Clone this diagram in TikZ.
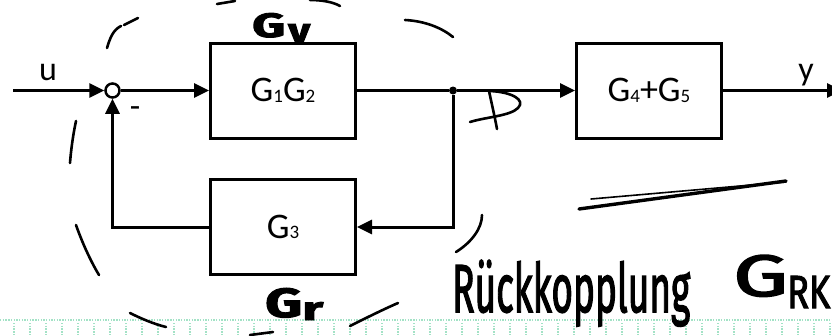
\documentclass[tikz,border=0pt]{standalone}
\usepackage{fontspec}
\setmainfont{Carlito}
\newfontfamily\handfont{Fira Sans}[FakeBold=2.5]
\usetikzlibrary{arrows.meta}

\definecolor{gridgreen}{HTML}{A3E2C6}

\newcommand\sub[1]{\raisebox{-0.5pt}{\fontsize{19}{19}\selectfont #1}}
\newcommand\hand[3]{\resizebox{#1}{#2}{\handfont #3}}
\newcommand\handbold[3]{\resizebox{#1}{#2}{\handfont\bfseries #3}}

\tikzset{
  block/.style={draw, line width=3pt, minimum width=145pt, minimum height=95pt, inner sep=0pt,
                font=\fontsize{36}{36}\selectfont},
  wire/.style={line width=3pt},
  sig/.style={line width=3pt, -{Triangle[length=15pt,width=14pt]}},
  lbl/.style={inner sep=0pt, font=\fontsize{34}{34}\selectfont},
  ink/.style={line width=2.6pt, line cap=round, line join=round},
  handlbl/.style={inner sep=0pt, anchor=base west},
  gridline/.style={color=gridgreen, line width=1.4pt, dash pattern=on 1.4pt off 1.3pt},
}

\begin{document}
\begin{tikzpicture}[x=1pt, y=-1pt]
\useasboundingbox (0,0) rectangle (832,335);

% ruled paper at the bottom edge
\draw[gridline] (0,320) -- (832,320);
\foreach \i in {0,...,51} {
  \draw[gridline] ({14+16*\i},323) -- ({14+16*\i},336);
}

% blocks
\node[block] (g12) at (283,90.5) {G\sub{1}G\sub{2}};
\node[block] (g45) at (649,90.5) {G\sub{4}+G\sub{5}};
\node[block] (g3)  at (283,227)  {G\sub{3}};

% summing point and branch point
\node[circle, draw, line width=2.5pt, minimum size=14pt, inner sep=0pt] (sum) at (112.5,90.5) {};
\node[circle, fill, minimum size=8pt, inner sep=0pt] (jn) at (453,90.5) {};
\coordinate (in)  at (13,90.5);
\coordinate (out) at (842,90.5);

% signal flow
\draw[sig]  (in) -- (sum);
\draw[sig]  (sum) -- (g12);
\draw[wire] (g12) -- (jn);
\draw[sig]  (jn) -- (g45);
\draw[sig]  (g45) -- (out);
\draw[sig]  (jn) |- (g3);
\draw[sig]  (g3) -| (sum);

% signal labels
\node[lbl, anchor=base] (lu) at (48,80) {u};
\node[lbl, anchor=base] (ly) at (806,80) {y};
\node[lbl, anchor=base] (lminus) at (135,117) {-};

% handwritten loop outline
\draw[ink] (217,4) -- (235,1);
\draw[ink] (310,0) .. controls (322,0) and (333,2) .. (340,6);
\draw[ink] (405,20) .. controls (425,21) and (442,28) .. (453,37);
\draw[ink] (107,48) .. controls (110,38) and (113,30) .. (121,26);
\draw[ink] (124,25) -- (138,18);
\draw[ink] (76,121) .. controls (73,135) and (71,150) .. (70,163);
\draw[ink] (76,225) .. controls (82,242) and (90,260) .. (99,275);
\draw[ink] (130,313) .. controls (142,319) and (154,324) .. (166,327);
\draw[ink] (250,335) -- (273,332);
\draw[ink] (350,326) .. controls (366,318) and (382,310) .. (398,303);
\draw[ink] (482,215) .. controls (482,228) and (472,242) .. (456,252);

% handwritten mark on the forward path
\draw[ink] (489,91) .. controls (492,105) and (495,118) .. (497,129);
\draw[ink] (490,91) .. controls (512,92) and (526,100) .. (518,108)
               .. controls (510,116) and (486,117) .. (470,122);

% handwritten underline
\draw[line width=3.4pt, line cap=round] (579,209) -- (786,181);
\draw[line width=1.6pt, line cap=round] (591,199) -- (786,182);

% handwritten labels
\node[handlbl] (gvG) at (252,37) {\handbold{33pt}{24pt}{G}};
\node[handlbl] (gvv) at (288,42) {\handbold{22pt}{18pt}{v}};
\node[handlbl] (grG) at (265,317) {\handbold{37pt}{29pt}{G}};
\node[handlbl] (grr) at (302,320) {\handbold{21pt}{18pt}{r}};
\node[handlbl] (rk)  at (452,312) {\hand{238pt}{52pt}{Rückkopplung}};
\node[handlbl] (grkG)  at (733,296) {\hand{55pt}{41pt}{G}};
\node[handlbl] (grkRK) at (787,308) {\hand{43pt}{32pt}{RK}};
\end{tikzpicture}
\end{document}
